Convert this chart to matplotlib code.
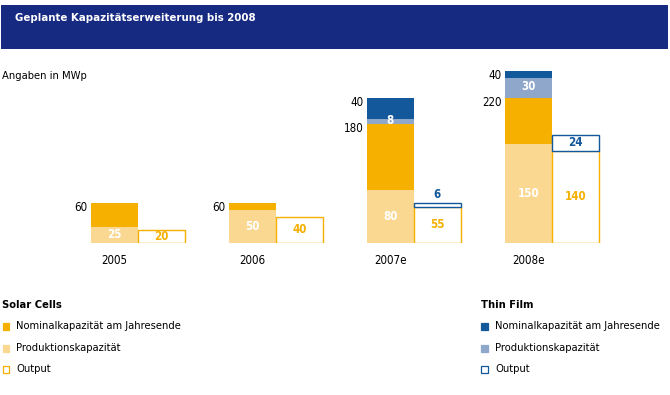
import numpy as np
import matplotlib.pyplot as plt
from matplotlib.patches import Rectangle

plt.rcParams['font.family'] = ['DejaVu Sans']
plt.rcParams['font.stretch'] = 'condensed'

# data (MWp)
years = ["2005", "2006", "2007e", "2008e"]
sc_nominal = [60, 60, 180, 220]
sc_production = [25, 50, 80, 150]
sc_output = [20, 40, 55, 140]
tf_nominal = [0, 0, 40, 40]
tf_production = [0, 0, 8, 30]
tf_output = [0, 0, 6, 24]

legend_labels = ["Nominalkapazität am Jahresende", "Produktionskapazität", "Output"]

# colours
c_sc_nom = "#F5B000"
c_sc_prod = "#FBD891"
c_tf_nom = "#12589B"
c_tf_prod = "#8EA7CA"
c_title = "#172A82"

W, H = 670, 395
fig = plt.figure(figsize=(W / 100, H / 100), dpi=100)

# title bar
fig.add_artist(Rectangle((1 / W, 1 - 49 / H), 667 / W, 44 / H, transform=fig.transFigure,
                         facecolor=c_title, edgecolor="none"))
fig.text(15 / W, 1 - 18 / H, "Geplante Kapazitätserweiterung bis 2008", color="white",
         fontsize=8.2, fontweight="bold", va="center", ha="left")
fig.text(2 / W, 1 - 76 / H, "Angaben in MWp", fontsize=8, va="center", ha="left")

# chart axes: baseline at 243 px, 0.66 px per MWp, group spacing 138 px
ax = fig.add_axes([0, (H - 243) / H, 1, 183 / H])
ax.set_xlim(-137.7 / 138.1, (W - 137.7) / 138.1)
ax.set_ylim(0, 183 / 0.66)
ax.axis("off")

x = np.arange(len(years))
w = 0.34
sc_nominal = np.array(sc_nominal)
sc_output = np.array(sc_output)
tf_nominal = np.array(tf_nominal)
tf_production = np.array(tf_production)
tf_output = np.array(tf_output)

ax.bar(x - w / 2, sc_nominal, w, color=c_sc_nom)
ax.bar(x - w / 2, sc_production, w, color=c_sc_prod)
ax.bar(x - w / 2, tf_nominal, w, bottom=sc_nominal, color=c_tf_nom)
ax.bar(x - w / 2, tf_production, w, bottom=sc_nominal, color=c_tf_prod)
ax.bar(x + w / 2, sc_output, w, facecolor="white", edgecolor=c_sc_nom, linewidth=1)
has_tf = tf_output > 0
ax.bar(x[has_tf] + w / 2, tf_output[has_tf], w, bottom=sc_output[has_tf],
       facecolor="white", edgecolor=c_tf_nom, linewidth=1)

fs = 8.3
for i, yr in enumerate(years):
    ax.text(x[i] - w / 2, -27, yr, ha="center", va="center", fontsize=fs, clip_on=False)
    # totals to the left of the bar
    ax.text(x[i] - w - 0.025, sc_nominal[i] - 6.5, str(sc_nominal[i]),
            ha="right", va="center", fontsize=fs)
    if tf_nominal[i] > 0:
        ax.text(x[i] - w - 0.025, sc_nominal[i] + tf_nominal[i] - 6.5, str(tf_nominal[i]),
                ha="right", va="center", fontsize=fs)
        ax.text(x[i] - w / 2, sc_nominal[i] + tf_production[i] / 2 + 2, str(tf_production[i]),
                ha="center", va="center", fontsize=fs, color="white", fontweight="bold")
    ax.text(x[i] - w / 2, sc_production[i] / 2, str(sc_production[i]),
            ha="center", va="center", fontsize=fs, color="white", fontweight="bold")
    ax.text(x[i] + w / 2, sc_output[i] / 2, str(sc_output[i]),
            ha="center", va="center", fontsize=fs, color=c_sc_nom, fontweight="bold")
    if tf_output[i] > 0:
        if tf_output[i] < 12:
            ax.text(x[i] + w / 2, sc_output[i] + tf_output[i] + 2, str(tf_output[i]),
                    ha="center", va="bottom", fontsize=fs, color=c_tf_nom, fontweight="bold")
        else:
            ax.text(x[i] + w / 2, sc_output[i] + tf_output[i] / 2, str(tf_output[i]),
                    ha="center", va="center", fontsize=fs, color=c_tf_nom, fontweight="bold")

# legends
rows = [326, 348, 369]
for x0, head, colors in [(2, "Solar Cells", [c_sc_nom, c_sc_prod, c_sc_nom]),
                         (481, "Thin Film", [c_tf_nom, c_tf_prod, c_tf_nom])]:
    fig.text(x0 / W, 1 - 305 / H, head, fontsize=8, fontweight="bold", va="center", ha="left")
    for k, (lab, col) in enumerate(zip(legend_labels, colors)):
        filled = k < 2
        fig.add_artist(Rectangle(((x0 + 0.5) / W, 1 - (rows[k] + 3.5) / H), 6.5 / W, 6.5 / H,
                                 transform=fig.transFigure,
                                 facecolor=col if filled else "white",
                                 edgecolor=col, linewidth=0.9))
        fig.text((x0 + 14) / W, 1 - rows[k] / H, lab, fontsize=8, va="center", ha="left")

fig.savefig("out.png", dpi=100)
